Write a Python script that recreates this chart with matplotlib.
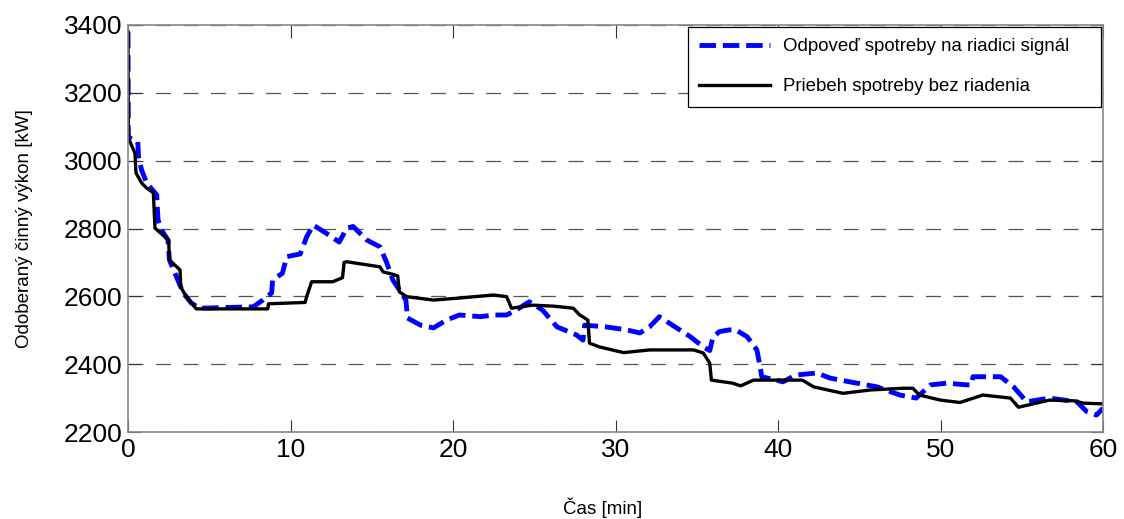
import numpy as np
import matplotlib.pyplot as plt

# odpoved spotreby (modra, ciarkovana)
t_odp = [0, 0.02, 0.1, 0.6, 0.65, 0.84, 1.15, 1.77, 1.8, 1.85, 2.07, 2.46, 2.55, 3.4, 3.9, 4.4,
         7.7, 8.3, 8.84, 8.9, 9.5, 9.77, 10.6, 11.0, 11.4, 12.2, 13.0, 13.46, 13.85, 14.7, 15.5,
         15.9, 16.3, 16.7, 17.1, 17.2, 18.0, 18.8, 19.6, 20.4, 21.7, 22.5, 23.3, 23.9, 24.7, 25.5,
         26.4, 27.6, 28.0, 28.1, 29.4, 30.7, 31.5, 32.1, 32.7, 33.5, 34.6, 35.4, 35.8, 36.0, 36.4,
         37.0, 37.4, 38.1, 38.7, 38.9, 39.0, 40.3, 41.1, 42.4, 43.2, 44.4, 46.1, 47.5, 48.5, 49.4,
         50.4, 51.6, 51.9, 52.0, 53.7, 54.5, 55.3, 56.7, 58.4, 59.0, 59.6, 59.9, 60]
p_odp = [3380, 3067, 3067, 3056, 3010, 2972, 2934, 2899, 2864, 2825, 2795, 2766, 2707, 2610, 2580, 2565,
         2569, 2589, 2610, 2648, 2668, 2717, 2725, 2776, 2810, 2786, 2760, 2801, 2806, 2766, 2746,
         2702, 2648, 2619, 2589, 2536, 2515, 2507, 2530, 2545, 2540, 2545, 2545, 2560, 2584, 2560,
         2510, 2486, 2471, 2515, 2510, 2501, 2492, 2510, 2540, 2515, 2481, 2451, 2440, 2481, 2496,
         2501, 2501, 2481, 2442, 2393, 2363, 2348, 2368, 2374, 2359, 2348, 2333, 2309, 2300, 2339,
         2344, 2339, 2339, 2363, 2363, 2333, 2289, 2300, 2289, 2260, 2250, 2265, 2270]

# priebeh bez riadenia (cierna)
t_bez = [0, 0.02, 0.12, 0.43, 0.49, 0.84, 1.15, 1.56, 1.66, 2.5, 2.55, 3.2, 3.25, 3.6, 4.2, 8.6,
         8.65, 10.9, 11.0, 11.3, 12.6, 13.2, 13.3, 13.46, 15.5, 15.7, 16.3, 16.6, 16.7, 17.15, 18.8,
         20.4, 22.5, 23.3, 23.6, 24.9, 26.2, 27.4, 27.8, 28.3, 28.4, 29.0, 30.5, 32.1, 34.8, 35.4,
         35.8, 35.9, 37.2, 37.7, 38.5, 41.5, 42.2, 44.0, 45.7, 47.7, 48.3, 48.7, 50.0, 51.2, 52.6,
         54.3, 54.8, 55.7, 56.7, 58.2, 58.8, 60]
p_bez = [3380, 3060, 3056, 3022, 2964, 2934, 2919, 2905, 2801, 2766, 2707, 2678, 2627, 2598, 2563, 2563,
         2578, 2582, 2600, 2643, 2643, 2655, 2700, 2702, 2687, 2672, 2665, 2660, 2613, 2599, 2589,
         2595, 2604, 2599, 2565, 2574, 2571, 2565, 2545, 2530, 2462, 2451, 2434, 2442, 2442, 2433,
         2403, 2353, 2344, 2336, 2353, 2353, 2333, 2314, 2324, 2329, 2329, 2309, 2294, 2287, 2309,
         2300, 2273, 2283, 2294, 2292, 2285, 2283]

y_ticks = [2200, 2400, 2600, 2800, 3000, 3200, 3400]
x_ticks = [0, 10, 20, 30, 40, 50, 60]

plt.rcParams['font.family'] = ['Liberation Sans', 'DejaVu Sans']

fig = plt.figure(figsize=(11.24, 5.19), dpi=100)
ax = fig.add_axes([128 / 1124, 1 - 432 / 519, (1103 - 128) / 1124, (432 - 25) / 519])

ax.plot(t_odp, p_odp, color='#0000ff', linewidth=3.5, dashes=(3.4, 1.4),
        label='Odpoveď spotreby na riadici signál')
ax.plot(t_bez, p_bez, color='black', linewidth=2.4, label='Priebeh spotreby bez riadenia')

ax.set_xlim(0, 60)
ax.set_ylim(2200, 3400)
ax.set_xticks(x_ticks)
ax.set_yticks(y_ticks)
ax.yaxis.grid(True, linestyle=(0, (12, 10)), color='#555555', linewidth=0.9)
ax.tick_params(direction='in', length=9, width=0.8, top=True, right=True,
               labelsize=19, color='#333333', pad=4)
for s in ax.spines.values():
    s.set_color('#888888')
    s.set_linewidth(1.2)

ax.set_ylabel('Odoberaný činný výkon [kW]', fontsize=13.5, labelpad=22)
fig.text(603 / 1124, 1 - 508 / 519, 'Čas [min]', fontsize=13.5, ha='center', va='center')

leg = ax.legend(loc='upper left', bbox_to_anchor=(688 / 1124, 1 - 27 / 519, 413 / 1124, 0),
                bbox_transform=fig.transFigure, borderaxespad=0, fancybox=False, mode='expand',
                fontsize=13.4, handlelength=3.8, handletextpad=0.7, borderpad=0.6,
                labelspacing=1.25, framealpha=1)
leg.get_frame().set_edgecolor('black')
leg.get_frame().set_linewidth(0.9)

fig.savefig('out.png', dpi=100)
